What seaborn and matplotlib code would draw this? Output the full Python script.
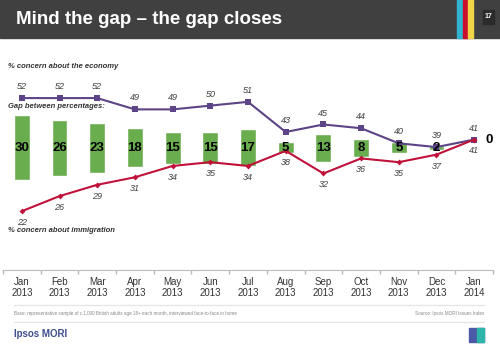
import matplotlib
matplotlib.use("Agg")
import matplotlib.pyplot as plt
import seaborn as sns
import pandas as pd
import numpy as np
from matplotlib.patches import Rectangle

sns.set_theme(style="white")
plt.rcParams['font.family'] = ['Liberation Sans', 'DejaVu Sans']

months = ["Jan\n2013", "Feb\n2013", "Mar\n2013", "Apr\n2013", "May\n2013", "Jun\n2013",
          "Jul\n2013", "Aug\n2013", "Sep\n2013", "Oct\n2013", "Nov\n2013", "Dec\n2013", "Jan\n2014"]
economy = [52, 52, 52, 49, 49, 50, 51, 43, 45, 44, 40, 39, 41]
immigration = [22, 26, 29, 31, 34, 35, 34, 38, 32, 36, 35, 37, 41]
gap = [30, 26, 23, 18, 15, 15, 17, 5, 13, 8, 5, 2, 0]

PURPLE = "#5c4486"
RED = "#c0113a"
GREEN = "#6aad4f"

W, H = 500, 346
fig = plt.figure(figsize=(5, 3.46), dpi=100)

def fx(px):
    return px / W

def fy(py):
    return 1 - py / H

# header
fig.patches.append(Rectangle((0, fy(38)), 1, 38 / H, transform=fig.transFigure,
                             color="#404040", zorder=0))
for x0, x1, c in [(457, 463, "#2fb3d1"), (463, 468, "#c8102e"), (468, 473, "#f1d548")]:
    fig.patches.append(Rectangle((fx(x0), fy(38)), (x1 - x0) / W, 38 / H,
                                 transform=fig.transFigure, color=c, zorder=1))
fig.patches.append(Rectangle((fx(483), fy(24)), 11 / W, 14 / H, transform=fig.transFigure,
                             color="#2b2b2b", zorder=1))
fig.text(fx(488.5), fy(17), "17", color="white", fontsize=5, fontweight="bold",
         ha="center", va="center")
fig.text(fx(16), fy(19), "Mind the gap \u2013 the gap closes", color="white",
         fontsize=13.5, fontweight="bold", ha="left", va="center")

# main axes
ax = fig.add_axes([fx(3), fy(270), (493 - 3) / W, (270 - 60) / H])
df = pd.DataFrame({"month": months, "economy": economy,
                   "immigration": immigration, "gap": gap})
x = np.arange(len(months))

center = 38.8
scale = 0.575
heights = [g * scale for g in gap]
bottoms = [center - h / 2 for h in heights]
ax.bar(x, heights, bottom=bottoms, width=0.42, color=GREEN, zorder=1)

sns.lineplot(data=df, x=x, y="economy", ax=ax, color=PURPLE, marker="s",
             markersize=4, markeredgewidth=0, linewidth=1.5, zorder=3)
sns.lineplot(data=df, x=x, y="immigration", ax=ax, color=RED, marker="D",
             markersize=3, markeredgewidth=0, linewidth=1.5, zorder=3)

for i in range(len(months)):
    ax.annotate(str(economy[i]), (x[i], economy[i]), xytext=(0, 5),
                textcoords="offset points", ha="center", va="bottom",
                fontsize=6.5, style="italic", color="#404040")
    ax.annotate(str(immigration[i]), (x[i], immigration[i]), xytext=(0, -5),
                textcoords="offset points", ha="center", va="top",
                fontsize=6.5, style="italic", color="#404040")
    if gap[i] > 0:
        ax.text(x[i], center, str(gap[i]), ha="center", va="center",
                fontsize=9.5, fontweight="bold", color="black", zorder=4)
    else:
        ax.annotate(str(gap[i]), (x[i], economy[i]), xytext=(8, 0),
                    textcoords="offset points", ha="left", va="center",
                    fontsize=9.5, fontweight="bold", color="black")

ax.set_xlim(-0.5, len(months) - 0.5)
ax.set_ylim(6.4, 62.1)
ax.set_yticks([])
ax.set_xticks(x)
ax.set_xticklabels(months, fontsize=7, color="#333333", linespacing=1.1)
ax.set_xticks(np.arange(-0.5, len(months), 1), minor=True)
ax.tick_params(axis="x", which="major", length=0, pad=5)
ax.tick_params(axis="x", which="minor", length=3, color="#bbbbbb", bottom=True)
for s in ["top", "right", "left"]:
    ax.spines[s].set_visible(False)
ax.spines["bottom"].set_color("#bbbbbb")
ax.spines["bottom"].set_linewidth(0.8)
ax.set_xlabel("")
ax.set_ylabel("")
ax.patch.set_alpha(0)

fig.text(fx(8), fy(67), "% concern about the economy", fontsize=5.5,
         fontweight="bold", style="italic", color="#333333", va="center")
fig.text(fx(8), fy(106), "Gap between percentages:", fontsize=5.5,
         fontweight="bold", style="italic", color="#333333", va="center")
fig.text(fx(8), fy(230), "% concern about immigration", fontsize=5.5,
         fontweight="bold", style="italic", color="#333333", va="center")

# footer
for yy in [305, 322]:
    fig.add_artist(plt.Line2D([fx(14), fx(484)], [fy(yy), fy(yy)],
                              transform=fig.transFigure, color="#e6e6e6", linewidth=1))
fig.text(fx(14), fy(314), "Base: representative sample of c.1,000 British adults age 18+ each month, "
         "interviewed face-to-face in home", fontsize=3.3, color="#888888", va="center")
fig.text(fx(484), fy(314), "Source: Ipsos MORI Issues Index", fontsize=3.3,
         color="#888888", va="center", ha="right")
fig.text(fx(14), fy(334), "Ipsos MORI", fontsize=7, fontweight="bold",
         color="#3f4f8f", va="center")
fig.patches.append(Rectangle((fx(469), fy(342)), 15 / W, 14 / H, transform=fig.transFigure,
                             color="#4a5aa8", zorder=1))
fig.patches.append(Rectangle((fx(477), fy(342)), 7 / W, 14 / H, transform=fig.transFigure,
                             color="#2cb5a8", zorder=1))

fig.savefig("out.png", dpi=100)
